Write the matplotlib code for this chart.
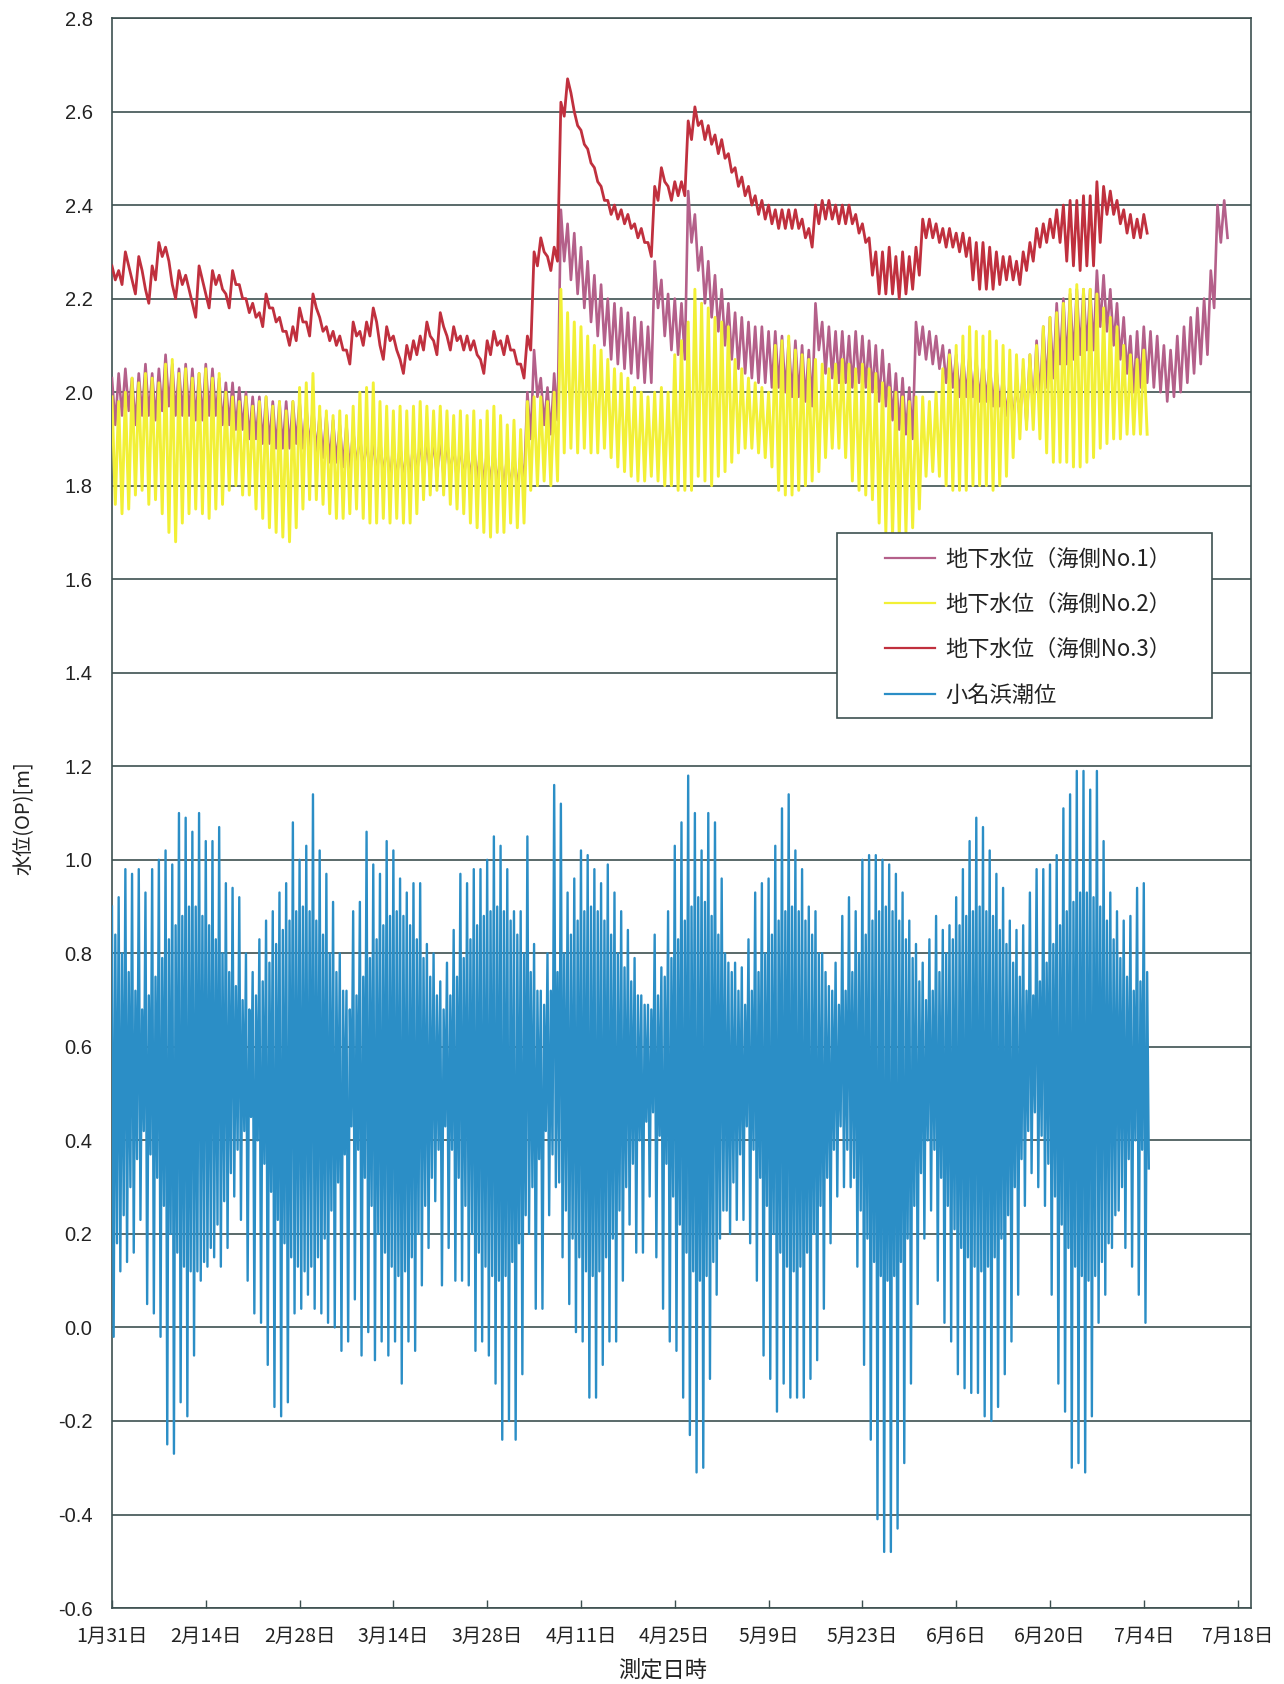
import numpy as np
import matplotlib
matplotlib.use('Agg')
import matplotlib.pyplot as plt
from matplotlib.patches import Rectangle

plt.rcParams['font.family'] = ['Noto Sans CJK JP', 'DejaVu Sans']

# day 0 = 1月31日, values in cm (O.P.)
# tide: higher high, lower low, lower high, higher low for each day
tide_hhw = [90, 92, 98, 97, 98, 93, 98, 100, 102, 99,
            110, 109, 106, 110, 104, 104, 107, 95, 94, 92,
            80, 76, 83, 87, 89, 93, 95, 108, 100, 103,
            114, 102, 97, 91, 80, 72, 89, 91, 106, 99,
            97, 104, 102, 96, 93, 95, 95, 82, 80, 74,
            78, 85, 97, 95, 98, 98, 100, 105, 103, 98,
            89, 89, 105, 82, 72, 80, 116, 112, 93, 96,
            102, 101, 98, 95, 99, 93, 89, 85, 79, 71,
            69, 84, 77, 89, 103, 108, 118, 110, 102, 110,
            108, 96, 78, 78, 77, 83, 93, 95, 96, 103,
            111, 114, 102, 98, 90, 89, 80, 73, 78, 88,
            92, 89, 100, 101, 101, 100, 99, 97, 93, 87,
            82, 78, 83, 88, 85, 86, 92, 98, 104, 109,
            107, 102, 97, 94, 87, 85, 86, 93, 98, 98,
            99, 101, 111, 114, 119, 119, 115, 119, 104, 93,
            89, 87, 88, 94, 95]
tide_llw = [-2, 12, 14, 16, 23, 5, 3, -2, -25, -27,
            -16, -19, -6, 10, 13, 15, 13, 17, 28, 23,
            10, 3, 1, -8, -17, -19, -16, 3, 4, 7,
            4, 3, 1, 0, -5, -3, 6, -6, -1, -7,
            -3, -6, -3, -12, -3, -5, 9, 17, 27, 9,
            17, 10, 10, 9, -5, -3, -6, -12, -24, -20,
            -24, -10, 20, 4, 4, 24, 30, 15, 5, -1,
            -3, -15, -15, -8, -3, -3, 10, 22, 16, 16,
            28, 15, 4, -3, -5, -15, -23, -31, -30, -11,
            7, 25, 20, 23, 23, 18, 10, -6, -11, -18,
            -12, -15, -15, -15, -11, -7, 4, 18, 28, 30,
            30, 13, -8, -24, -41, -48, -48, -43, -29, -12,
            5, 19, 25, 10, 1, -3, -10, -13, -14, -14,
            -19, -20, -17, -10, -3, 7, 26, 33, 30, 26,
            7, -12, -18, -30, -29, -31, -19, 1, 7, 17,
            25, 17, 13, 7, 1]
tide_lhw = [84, 80, 76, 72, 68, 71, 75, 79, 83, 86,
            88, 90, 90, 88, 86, 83, 80, 76, 73, 70,
            68, 71, 74, 78, 82, 85, 87, 89, 90, 89,
            87, 84, 80, 76, 72, 68, 71, 75, 79, 83,
            86, 88, 89, 88, 86, 83, 79, 75, 71, 68,
            71, 75, 79, 83, 86, 88, 89, 90, 89, 87,
            84, 80, 76, 72, 69, 72, 76, 80, 84, 87,
            89, 90, 89, 87, 84, 80, 77, 74, 71, 69,
            68, 71, 75, 79, 83, 87, 90, 92, 91, 88,
            84, 80, 76, 72, 69, 72, 76, 80, 84, 87,
            89, 90, 89, 87, 84, 80, 76, 72, 69, 72,
            76, 80, 84, 87, 89, 90, 89, 87, 83, 79,
            74, 70, 72, 76, 80, 83, 86, 88, 89, 90,
            89, 88, 85, 82, 78, 75, 72, 71, 74, 78,
            82, 86, 89, 91, 93, 93, 92, 90, 87, 83,
            79, 75, 72, 74, 76]
tide_hlw = [18, 24, 30, 36, 42, 37, 32, 26, 20, 16,
            13, 12, 12, 14, 17, 22, 27, 33, 38, 42,
            45, 40, 35, 29, 23, 18, 15, 13, 12, 13,
            15, 19, 25, 31, 37, 43, 38, 32, 26, 20,
            16, 13, 11, 12, 15, 20, 26, 32, 38, 43,
            38, 32, 26, 20, 16, 13, 11, 10, 11, 14,
            18, 24, 30, 36, 42, 37, 31, 25, 19, 15,
            12, 11, 12, 15, 19, 25, 30, 35, 40, 44,
            46, 41, 35, 28, 22, 16, 12, 10, 11, 14,
            19, 25, 31, 37, 43, 38, 32, 26, 20, 16,
            13, 12, 13, 16, 20, 26, 32, 38, 43, 38,
            32, 25, 19, 14, 11, 10, 11, 14, 19, 26,
            33, 40, 38, 32, 26, 21, 17, 15, 13, 12,
            13, 15, 19, 24, 30, 36, 42, 46, 41, 35,
            28, 22, 17, 13, 11, 10, 11, 14, 18, 24,
            30, 36, 40, 38, 34]

# groundwater: daily high / daily low
no1_hi = [203, 204, 205, 203, 204, 206, 204, 205, 208, 206,
          205, 206, 205, 204, 206, 205, 203, 202, 202, 201,
          200, 199, 199, 199, 198, 198, 198, 198, 198, 197,
          197, 195, 195, 194, 193, 193, 192, 191, 190, 190,
          190, 189, 189, 189, 189, 190, 190, 190, 190, 190,
          190, 189, 189, 189, 189, 188, 188, 188, 187, 187,
          187, 187, 200, 209, 203, 201, 204, 239, 236, 234,
          231, 228, 225, 223, 220, 219, 218, 217, 216, 215,
          214, 228, 224, 221, 220, 219, 243, 238, 231, 228,
          225, 222, 219, 217, 216, 215, 214, 214, 213, 213,
          212, 211, 211, 210, 209, 219, 215, 214, 213, 213,
          212, 213, 212, 211, 210, 209, 206, 204, 203, 201,
          215, 214, 213, 212, 210, 209, 208, 208, 208, 207,
          207, 206, 205, 203, 202, 202, 205, 208, 211, 214,
          216, 219, 220, 221, 222, 222, 222, 226, 225, 222,
          219, 216, 212, 213, 214, 213, 212, 210, 209, 212,
          214, 216, 218, 220, 226, 240, 241]
no1_lo = [193, 195, 196, 193, 195, 195, 194, 196, 197, 195,
          195, 195, 194, 194, 195, 195, 193, 193, 192, 192,
          190, 190, 189, 189, 188, 188, 188, 189, 188, 188,
          187, 186, 185, 185, 184, 183, 184, 183, 182, 182,
          182, 181, 181, 181, 181, 182, 182, 182, 182, 182,
          182, 181, 181, 181, 181, 180, 180, 180, 179, 179,
          179, 180, 190, 199, 193, 191, 194, 228, 224, 221,
          218, 215, 212, 210, 207, 206, 205, 204, 203, 202,
          202, 218, 212, 209, 208, 207, 232, 226, 219, 216,
          213, 210, 207, 205, 204, 203, 202, 202, 201, 201,
          200, 199, 199, 198, 197, 209, 204, 203, 202, 202,
          201, 202, 201, 200, 198, 197, 194, 192, 191, 190,
          208, 207, 206, 205, 202, 201, 199, 199, 199, 198,
          198, 197, 197, 195, 194, 194, 193, 196, 198, 201,
          203, 206, 206, 207, 208, 209, 209, 214, 213, 210,
          207, 204, 200, 201, 202, 201, 200, 198, 199, 200,
          202, 204, 206, 208, 218, 232, 233]

no2_hi = [199, 198, 200, 203, 202, 204, 203, 202, 206, 207,
          204, 205, 203, 204, 205, 203, 204, 200, 199, 198,
          199, 197, 198, 199, 197, 198, 196, 198, 201, 202,
          204, 197, 196, 195, 196, 195, 197, 200, 201, 202,
          198, 197, 196, 197, 196, 197, 198, 197, 196, 197,
          196, 195, 196, 195, 196, 194, 196, 197, 195, 193,
          194, 192, 198, 199, 199, 198, 200, 222, 217, 215,
          214, 212, 210, 209, 207, 205, 204, 203, 201, 200,
          199, 200, 201, 200, 208, 211, 215, 222, 219, 218,
          216, 215, 214, 207, 205, 203, 202, 201, 200, 210,
          211, 212, 209, 208, 207, 207, 206, 205, 206, 207,
          206, 205, 206, 205, 204, 202, 201, 200, 199, 198,
          199, 199, 198, 200, 205, 208, 210, 212, 214, 213,
          212, 213, 211, 210, 209, 208, 207, 208, 210, 214,
          216, 217, 219, 222, 223, 222, 222, 221, 218, 216,
          214, 210, 208, 207, 209]
no2_lo = [176, 174, 175, 178, 179, 176, 177, 174, 170, 168,
          172, 174, 175, 174, 173, 175, 176, 179, 180, 178,
          178, 175, 173, 171, 170, 169, 168, 171, 175, 177,
          177, 176, 174, 173, 173, 174, 175, 173, 172, 172,
          173, 172, 173, 172, 172, 174, 177, 178, 179, 178,
          176, 175, 174, 172, 171, 170, 169, 170, 170, 172,
          171, 172, 179, 180, 181, 180, 181, 187, 188, 187,
          188, 187, 187, 188, 186, 184, 183, 182, 181, 181,
          182, 181, 180, 180, 179, 179, 179, 182, 181, 180,
          182, 183, 185, 187, 188, 188, 187, 186, 184, 179,
          178, 178, 179, 180, 181, 183, 186, 188, 188, 186,
          181, 179, 178, 177, 172, 170, 169, 169, 170, 171,
          175, 182, 183, 182, 180, 179, 179, 179, 180, 180,
          180, 179, 180, 182, 186, 190, 192, 192, 190, 187,
          185, 185, 185, 184, 184, 185, 186, 188, 189, 190,
          190, 191, 191, 191, 191]

no3_hi = [227, 226, 230, 224, 229, 222, 227, 232, 231, 223,
          226, 225, 219, 227, 221, 226, 225, 221, 226, 223,
          220, 219, 217, 221, 218, 216, 213, 214, 218, 215,
          221, 216, 214, 213, 212, 209, 215, 213, 215, 218,
          210, 214, 212, 207, 210, 211, 212, 215, 211, 217,
          212, 214, 212, 212, 211, 207, 211, 213, 211, 212,
          209, 206, 212, 230, 233, 229, 231, 262, 267, 260,
          256, 252, 248, 244, 241, 240, 239, 238, 236, 235,
          232, 244, 248, 244, 245, 245, 258, 261, 258, 257,
          255, 254, 251, 248, 246, 244, 242, 241, 240, 239,
          239, 239, 239, 237, 235, 240, 241, 241, 240, 240,
          240, 238, 236, 233, 230, 230, 231, 229, 230, 229,
          231, 237, 237, 236, 235, 235, 234, 234, 233, 232,
          232, 231, 230, 229, 229, 228, 230, 232, 235, 236,
          237, 239, 240, 241, 241, 242, 242, 245, 244, 243,
          241, 239, 238, 237, 238]
no3_lo = [224, 223, 227, 221, 226, 219, 224, 229, 228, 220,
          223, 222, 216, 224, 218, 223, 222, 218, 223, 220,
          217, 216, 214, 218, 215, 213, 210, 211, 215, 212,
          218, 213, 211, 210, 209, 206, 212, 210, 212, 215,
          207, 211, 209, 204, 207, 208, 209, 212, 208, 214,
          209, 211, 209, 209, 208, 204, 208, 210, 208, 209,
          206, 203, 209, 227, 230, 226, 228, 259, 264, 257,
          253, 249, 245, 241, 238, 237, 236, 235, 233, 232,
          229, 241, 245, 241, 242, 242, 254, 257, 254, 253,
          251, 250, 247, 244, 242, 240, 238, 237, 236, 235,
          235, 235, 235, 233, 231, 236, 237, 237, 236, 236,
          236, 234, 232, 225, 221, 221, 221, 220, 221, 222,
          225, 233, 233, 232, 231, 231, 230, 229, 224, 222,
          222, 222, 223, 224, 224, 223, 226, 228, 231, 232,
          233, 232, 228, 227, 226, 227, 227, 232, 238, 238,
          236, 234, 233, 233, 234]

tick_labels = ['1月31日', '2月14日', '2月28日', '3月14日', '3月28日', '4月11日',
               '4月25日', '5月9日', '5月23日', '6月6日', '6月20日', '7月4日', '7月18日']
series_labels = ['地下水位（海側No.1）', '地下水位（海側No.2）', '地下水位（海側No.3）', '小名浜潮位']
colors = ['#b4608a', '#f2f036', '#c0303e', '#2b8ec6']


def daily(hi, lo):
    t = (np.arange(len(hi))[:, None] + np.array([0.0, 0.5])).ravel()
    v = np.column_stack([hi, lo]).ravel() / 100.0
    return t, v


def tidal(hhw, llw, lhw, hlw):
    t = (np.arange(len(hhw))[:, None] + np.array([0.0, 0.25, 0.5, 0.75])).ravel()
    v = np.column_stack([hhw, llw, lhw, hlw]).ravel() / 100.0
    return t, v


fig = plt.figure(figsize=(12.84, 16.84), dpi=100)
ax = fig.add_axes([0.0872, 0.0451, 0.8871, 0.9442])

handles = []
t, v = daily(no1_hi, no1_lo)
handles += ax.plot(t, v, color=colors[0], lw=1.9, zorder=3)
t, v = daily(no2_hi, no2_lo)
handles += ax.plot(t, v, color=colors[1], lw=2.1, zorder=4)
t, v = daily(no3_hi, no3_lo)
handles += ax.plot(t, v, color=colors[2], lw=2.0, zorder=5)
t, v = tidal(tide_hhw, tide_llw, tide_lhw, tide_hlw)
handles += ax.plot(t, v, color=colors[3], lw=1.7, zorder=6)

ax.set_xlim(0, 170)
ax.set_ylim(-0.6, 2.8)

yt = np.round(np.arange(-0.6, 2.81, 0.2), 1)
ax.set_yticks(yt)
ax.set_yticklabels(['%.1f' % (y + 0.0) for y in yt], fontfamily=['Liberation Sans', 'DejaVu Sans'], fontsize=14.5)
ax.set_xticks(np.arange(len(tick_labels)) * 14)
ax.set_xticklabels(tick_labels, fontsize=14)

ax.yaxis.grid(True, color='#3d5050', lw=1.2)
ax.set_axisbelow(True)
ax.tick_params(axis='y', length=0, pad=14, colors='#222222')
ax.tick_params(axis='x', direction='in', length=6, width=1, pad=13, color='#3d5050', labelcolor='#222222')
for s in ax.spines.values():
    s.set_color('#3d5050')
    s.set_linewidth(1.2)

# legend box
ax.add_patch(Rectangle((0.6365, 0.5597), 0.3292, 0.1164, transform=ax.transAxes,
                       facecolor='white', edgecolor='#3d5050', lw=1.2, zorder=10))
leg = ax.legend(handles, series_labels, loc='upper left', bbox_to_anchor=(0.6787, 0.6668),
                frameon=False, fontsize=16, handlelength=2.27, handletextpad=0.45,
                labelspacing=1.0, borderpad=0, borderaxespad=0)
leg.set_zorder(11)
for h in leg.get_lines():
    h.set_linewidth(1.6)
for txt in leg.get_texts():
    txt.set_color('#222222')

fig.text(0.0187, 0.514, '水位(OP)[m]', rotation=90, ha='center', va='center', fontsize=14.5, color='#222222')
fig.text(0.516, 0.0083, '測定日時', ha='center', va='center', fontsize=16, color='#222222')

fig.savefig('out.png', dpi=100)
plt.close()
